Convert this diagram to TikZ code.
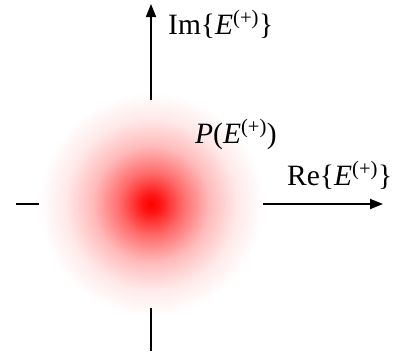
\documentclass[tikz,border=0pt]{standalone}
\usepackage{fontspec}
\setmainfont{Liberation Serif}
\usetikzlibrary{arrows.meta}
\pgfdeclareradialshading{blob}{\pgfpoint{0bp}{0bp}}{%
  color(0bp)=(red); color(2bp)=(red!92); color(7bp)=(red!58);
  color(13bp)=(red!27); color(19bp)=(red!9); color(25bp)=(white);
  color(50bp)=(white)}
\newcommand{\field}{\textit{E}\textsuperscript{(+)}}
\begin{document}
\begin{tikzpicture}[x=1pt,y=-1pt,
  axis/.style={line width=1.8pt},
  lbl/.style={anchor=base west,inner sep=0pt,font=\fontsize{29.5}{32}\selectfont}]
  \useasboundingbox (0,0) rectangle (393,354);
  % verteilung
  \shade[shading=blob] (151,204) circle (112);
  % achsen
  \coordinate (O) at (151,204);
  \coordinate (up0) at (151,100);
  \coordinate (up1) at (151,4);
  \coordinate (dn0) at (151,308);
  \coordinate (dn1) at (151,351);
  \coordinate (lf0) at (16,204);
  \coordinate (lf1) at (39,204);
  \coordinate (rt0) at (263,204);
  \coordinate (rt1) at (383,204);
  \draw[axis,-{Triangle[length=13pt,width=10pt]}] (up0) -- (up1);
  \draw[axis,-{Triangle[length=13pt,width=10pt]}] (rt0) -- (rt1);
  \draw[axis] (dn0) -- (dn1);
  \draw[axis] (lf0) -- (lf1);
  % beschriftungen
  \node[lbl] (im) at (168,34) {Im\{\field\}};
  \node[lbl] (p) at (195,143) {\textit{P}(\field)};
  \node[lbl] (re) at (287,185) {Re\{\field\}};
\end{tikzpicture}
\end{document}
